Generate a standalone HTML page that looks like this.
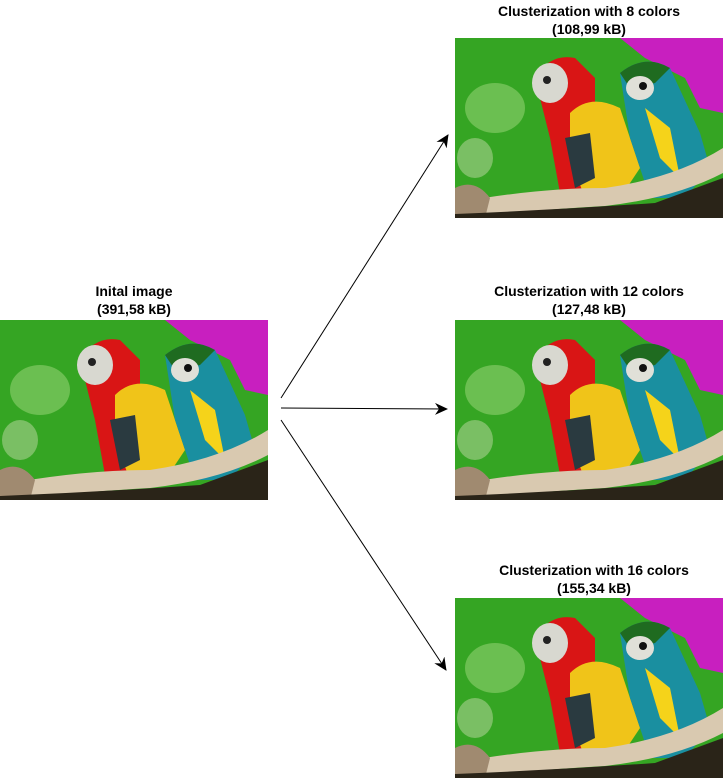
<!DOCTYPE html>
<html><head><meta charset="utf-8"><style>
body{margin:0;background:#fff;width:727px;height:780px;position:relative;overflow:hidden;font-family:"Liberation Sans",sans-serif;}
.lbl{position:absolute;width:300px;text-align:center;font-weight:bold;font-size:14px;line-height:18px;color:#000}
svg.img{position:absolute;width:268px;height:180px}
</style></head><body>
<svg width="0" height="0" style="position:absolute">
<defs>
<symbol id="p" viewBox="0 0 268 180">
<rect width="268" height="180" fill="#2f9c1e"/>
<rect x="0" y="0" width="268" height="180" fill="#3fb52a" opacity="0.4"/>
<ellipse cx="40" cy="70" rx="30" ry="25" fill="#8fd06f" opacity="0.6"/>
<ellipse cx="20" cy="120" rx="18" ry="20" fill="#a8d08f" opacity="0.6"/>
<path d="M165 0 H268 V75 L245 70 L230 40 L190 20 Z" fill="#c81fbf"/>
<path d="M80 40 Q95 15 120 20 L140 40 L140 150 L105 155 L95 100 Z" fill="#d91515"/>
<ellipse cx="95" cy="45" rx="18" ry="20" fill="#d8d8d0"/>
<circle cx="92" cy="42" r="4" fill="#222"/>
<path d="M115 75 Q135 55 165 70 L185 130 L165 160 L130 160 L115 120 Z" fill="#f0c419"/>
<path d="M165 35 Q190 15 215 30 L245 95 L255 130 L230 160 L195 160 L175 100 Z" fill="#1a8fa0"/>
<path d="M165 35 Q190 15 215 30 L200 45 L175 50 Z" fill="#1f6b20"/>
<ellipse cx="185" cy="50" rx="14" ry="12" fill="#e0e0d8"/>
<circle cx="188" cy="48" r="4" fill="#111"/>
<path d="M190 70 L205 120 L225 140 L215 90 Z" fill="#f5d31a"/>
<path d="M110 100 L135 95 L140 140 L120 150 Z" fill="#2a3a40"/>
<path d="M0 165 Q80 150 150 150 Q220 140 268 110 V135 Q220 160 150 168 Q80 172 0 180 Z" fill="#d9c9b0"/>
<path d="M0 150 Q20 140 35 160 L30 180 H0 Z" fill="#a08a70"/>
<path d="M0 176 Q100 172 200 165 L268 140 V180 H0 Z" fill="#2a2418"/>
</symbol>
</defs>
</svg>

<div class="lbl" style="left:-16px;top:282px">Inital image<br>(391,58 kB)</div>
<svg class="img" style="left:0;top:320px"><use href="#p"/></svg>

<div class="lbl" style="left:439px;top:2px">Clusterization with 8 colors<br>(108,99 kB)</div>
<svg class="img" style="left:455px;top:38px"><use href="#p"/></svg>

<div class="lbl" style="left:439px;top:282px">Clusterization with 12 colors<br>(127,48 kB)</div>
<svg class="img" style="left:455px;top:320px"><use href="#p"/></svg>

<div class="lbl" style="left:444px;top:561px">Clusterization with 16 colors<br>(155,34 kB)</div>
<svg class="img" style="left:455px;top:598px"><use href="#p"/></svg>

<svg style="position:absolute;left:0;top:0" width="727" height="780">
<defs><marker id="a" markerWidth="14" markerHeight="12" refX="12" refY="6" orient="auto" markerUnits="userSpaceOnUse"><path d="M0 0 L13 6 L0 12 L4 6 Z" fill="#000"/></marker></defs>
<g stroke="#000" stroke-width="1" fill="none">
<line x1="281" y1="398" x2="448" y2="135" marker-end="url(#a)"/>
<line x1="281" y1="408" x2="447" y2="409" marker-end="url(#a)"/>
<line x1="281" y1="420" x2="446" y2="670" marker-end="url(#a)"/>
</g>
</svg>
</body></html>
